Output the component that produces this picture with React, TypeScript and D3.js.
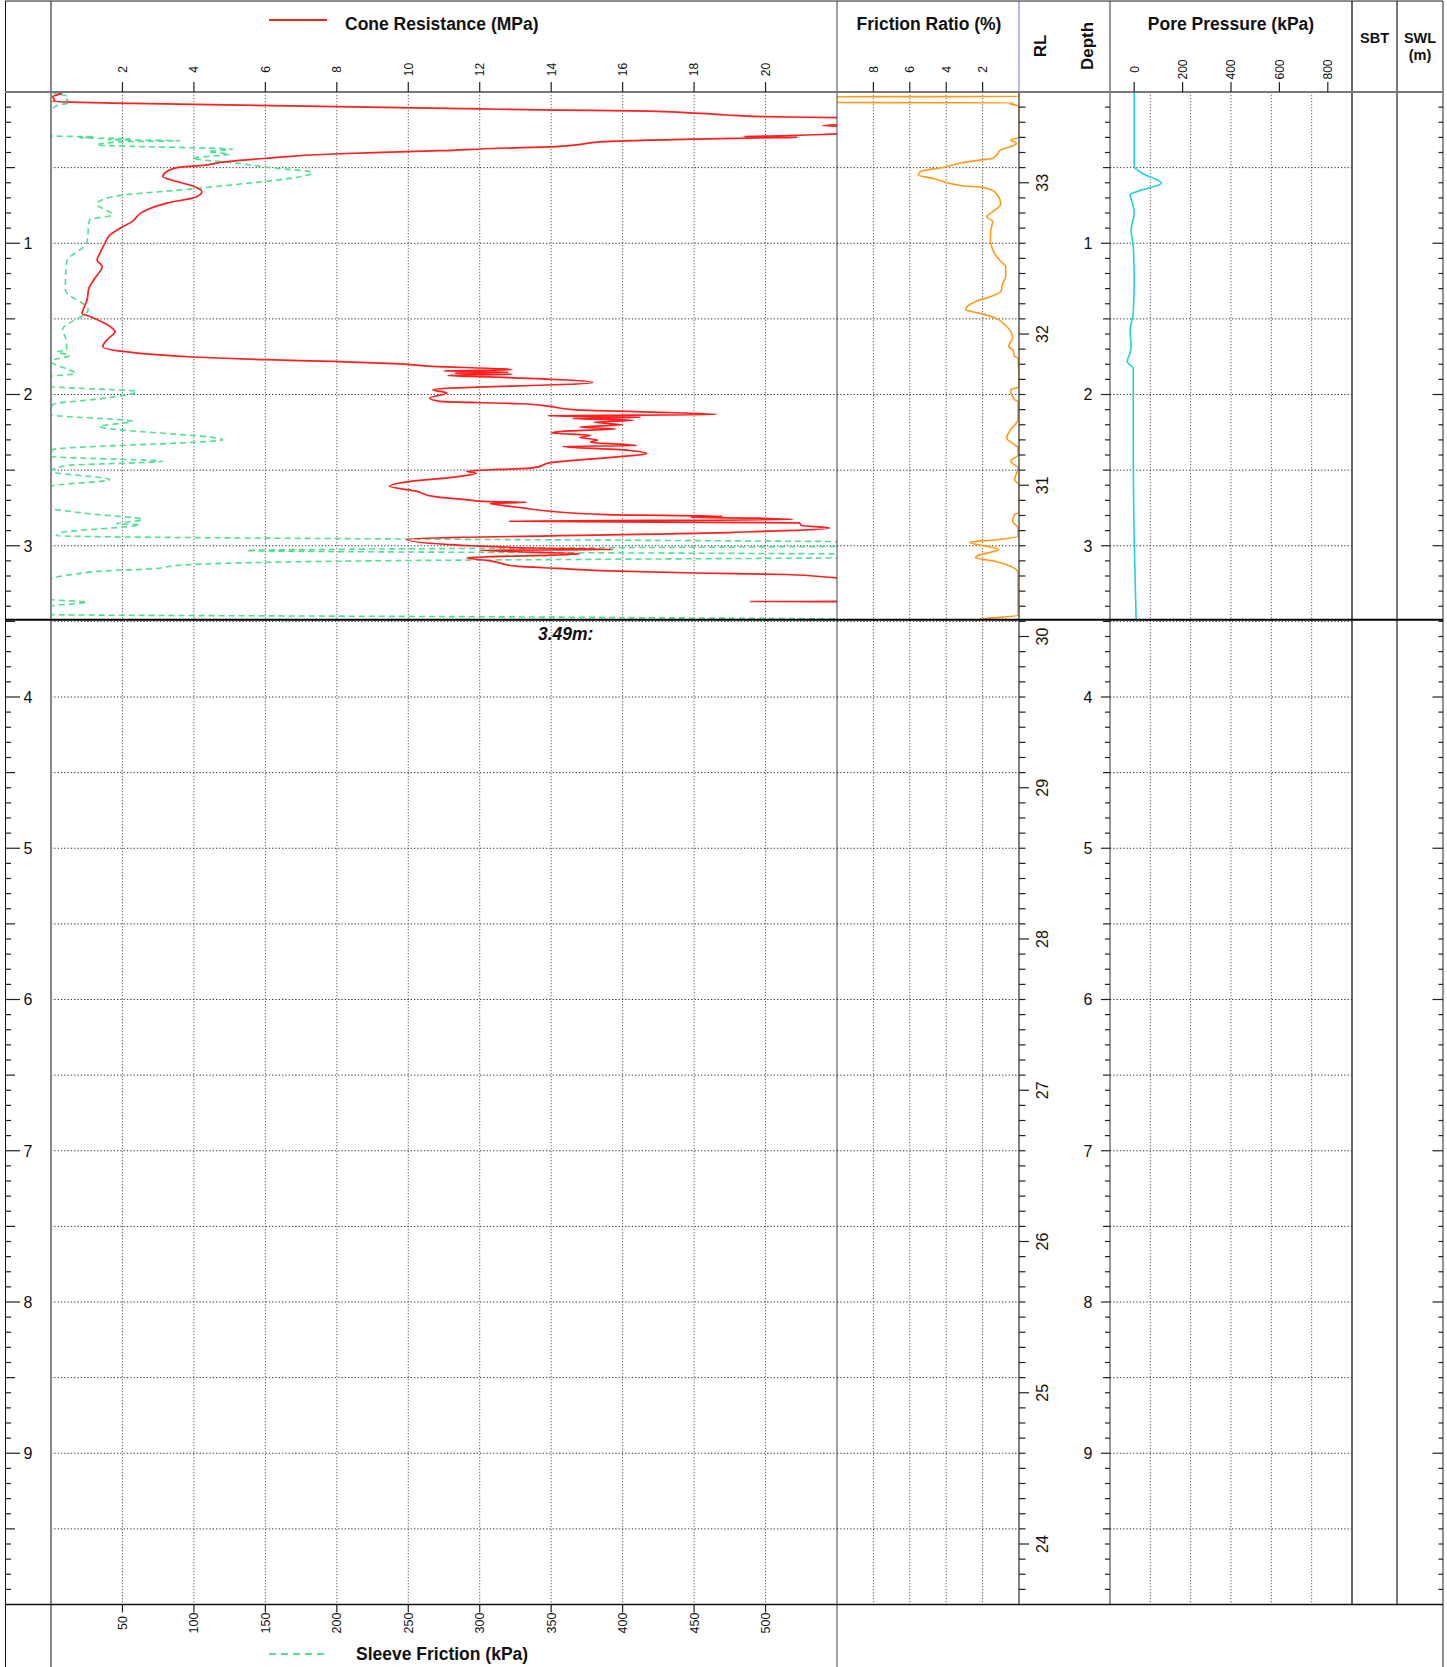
import React from "react";
import * as d3 from "d3";

// ---------- data (depth in m) ----------
const coneDepth = [0.0, 0.008, 0.03, 0.055, 0.063, 0.075, 0.103, 0.112, 0.12, 0.125, 0.141, 0.152, 0.163, 0.17, 0.195, 0.222, 0.25, 0.277, 0.29, 0.295, 0.3, 0.303, 0.312, 0.33, 0.35, 0.363, 0.372, 0.388, 0.396, 0.41, 0.438, 0.46, 0.489, 0.497, 0.526, 0.559, 0.592, 0.621, 0.659, 0.692, 0.735, 0.791, 0.857, 0.89, 0.945, 0.999, 1.065, 1.11, 1.154, 1.231, 1.297, 1.374, 1.44, 1.462, 1.484, 1.55, 1.583, 1.638, 1.682, 1.715, 1.752, 1.77, 1.781, 1.797, 1.814, 1.83, 1.836, 1.845, 1.852, 1.86, 1.866, 1.874, 1.884, 1.92, 1.968, 1.99, 2.023, 2.046, 2.061, 2.079, 2.1, 2.133, 2.14, 2.15, 2.158, 2.17, 2.184, 2.2, 2.215, 2.228, 2.24, 2.255, 2.27, 2.285, 2.3, 2.315, 2.338, 2.343, 2.365, 2.391, 2.409, 2.442, 2.449, 2.485, 2.508, 2.52, 2.541, 2.585, 2.607, 2.64, 2.673, 2.684, 2.695, 2.706, 2.713, 2.72, 2.728, 2.75, 2.772, 2.794, 2.805, 2.812, 2.818, 2.827, 2.838, 2.849, 2.865, 2.882, 2.911, 2.959, 3.003, 3.015, 3.025, 3.03, 3.054, 3.08, 3.1, 3.135, 3.15, 3.164, 3.18, 3.19, 3.212, 3.25, 3.366, 3.3685, 3.371, 3.49];
const coneValue = [0.0, 0.3, 0.05, 0.1, 0.05, 2.29, 9.76, 12.0, 14.24, 16.28, 18.15, 18.9, 20.0, 22.0, 25.0, 21.6, 25.0, 22.0, 20.4, 19.4, 20.9, 19.8, 17.96, 15.36, 14.7, 13.96, 12.56, 10.88, 9.76, 7.89, 6.04, 4.92, 4.08, 3.61, 3.24, 3.13, 3.52, 3.97, 4.22, 4.08, 3.24, 2.57, 2.27, 2.01, 1.65, 1.51, 1.37, 1.29, 1.43, 1.23, 1.06, 1.01, 0.9, 0.87, 1.09, 1.65, 1.79, 1.57, 1.45, 2.01, 3.97, 6.04, 7.89, 9.76, 10.69, 12.56, 12.9, 11.0, 12.8, 11.3, 12.9, 11.1, 12.28, 15.16, 10.69, 11.08, 10.6, 10.88, 13.12, 13.96, 14.6, 18.63, 13.9, 16.5, 14.6, 16.3, 15.2, 16.0, 14.8, 15.8, 14.5, 14.0, 15.1, 14.8, 15.3, 15.1, 16.39, 14.32, 15.92, 16.67, 16.0, 14.32, 14.04, 13.48, 11.64, 11.9, 11.44, 9.76, 9.48, 10.24, 10.69, 11.08, 11.6, 12.08, 13.31, 12.3, 12.48, 13.2, 13.96, 15.55, 18.8, 17.9, 19.8, 20.76, 12.84, 20.95, 21.0, 21.79, 19.08, 9.96, 12.0, 13.5, 15.72, 12.0, 14.8, 11.64, 12.3, 13.03, 14.2, 15.36, 18.0, 20.59, 22.0, 26.0, 28.0, 19.55, 28.0, 28.0];

const sleeveDepth = [0.0, 0.01, 0.03, 0.053, 0.07, 0.086, 0.13, 0.29, 0.297, 0.303, 0.309, 0.316, 0.322, 0.33, 0.35, 0.36, 0.378, 0.395, 0.41, 0.438, 0.467, 0.497, 0.533, 0.636, 0.692, 0.74, 0.812, 0.845, 0.999, 1.121, 1.308, 1.44, 1.572, 1.62, 1.704, 1.72, 1.74, 1.781, 1.863, 1.88, 1.946, 1.98, 2.023, 2.067, 2.133, 2.178, 2.211, 2.299, 2.365, 2.409, 2.442, 2.47, 2.508, 2.563, 2.607, 2.75, 2.783, 2.827, 2.855, 2.86, 2.915, 2.933, 2.99, 3.032, 3.065, 3.102, 3.124, 3.157, 3.162, 3.19, 3.223, 3.355, 3.373, 3.4, 3.455, 3.47, 3.49];
const sleeveValue = [0, 3, 12, 11, 14, 5, 0, 0, 30, 20, 55, 40, 90, 48, 32, 60, 127, 110, 125, 99, 127, 151, 183, 104, 43, 32, 43, 27, 25, 11, 10, 26, 8, 10, 11, 4, 13, 0, 17, 0, 0, 60, 39, 1, 0, 57, 34, 120, 1, 0, 78, 10, 0, 41, 0, 0, 22, 64, 46, 62, 6, 4, 720, 137, 720, 202, 99, 62, 46, 15, 0, 0, 25, 0, 0, 314, 650];

const frDepth = [0.0, 0.03, 0.031, 0.069, 0.071, 0.08, 0.086, 0.1, 0.3, 0.317, 0.339, 0.357, 0.383, 0.416, 0.438, 0.449, 0.471, 0.497, 0.526, 0.548, 0.57, 0.621, 0.629, 0.647, 0.68, 0.74, 0.791, 0.824, 0.857, 0.911, 0.978, 1.044, 1.121, 1.154, 1.22, 1.264, 1.319, 1.352, 1.385, 1.44, 1.462, 1.495, 1.539, 1.583, 1.627, 1.682, 1.704, 1.748, 1.759, 1.95, 1.968, 2.034, 2.046, 2.166, 2.233, 2.287, 2.332, 2.353, 2.398, 2.442, 2.485, 2.563, 2.6, 2.78, 2.794, 2.838, 2.882, 2.937, 2.959, 2.977, 3.025, 3.065, 3.08, 3.102, 3.135, 3.179, 3.461, 3.483, 3.49];
const frValue = [0, 0, 14, 14, 0.3, 0.5, 0.2, 0, 0, 0.46, 0.13, 0.35, 1.0, 1.22, 1.44, 2.07, 3.25, 4.11, 5.42, 5.53, 4.76, 3.04, 2.07, 1.53, 1.2, 1.0, 1.44, 1.77, 1.44, 1.55, 1.57, 1.44, 1.0, 0.73, 0.73, 0.89, 1.0, 1.55, 2.39, 2.93, 2.17, 1.28, 0.78, 0.46, 0.35, 0.57, 0.35, 0.24, 0.05, 0, 0.46, 0.24, 0.05, 0.05, 0.46, 0.68, 0.24, 0.05, 0.05, 0.46, 0.05, 0.24, 0, 0, 0.24, 0.35, 0.05, 0.05, 1.11, 2.71, 1.11, 2.28, 2.39, 1.33, 0.46, 0.05, 0.05, 1.98, 2.2];

const ppDepth = [0.0, 0.493, 0.537, 0.603, 0.647, 0.68, 0.72, 0.801, 0.911, 1.022, 1.242, 1.462, 1.572, 1.682, 1.726, 1.781, 1.8, 1.825, 2.299, 2.959, 3.487];
const ppValue = [0, 0, 33, 113, 33, -17, -10, 0, -13, -4, 0, -4, -17, -13, -17, -29, -20, -4, -4, 0, 8];

const coneTicks = [2, 4, 6, 8, 10, 12, 14, 16, 18, 20];
const sleeveTicks = [50, 100, 150, 200, 250, 300, 350, 400, 450, 500];
const frTicks = [8, 6, 4, 2];
const ppTicks = [0, 200, 400, 600, 800];
const depthLabels = [1, 2, 3, 4, 5, 6, 7, 8, 9];
const rlLabels = [33, 32, 31, 30, 29, 28, 27, 26, 25, 24];
const endDepth = 3.49;

const FONT = "'Liberation Sans', Arial, Helvetica, sans-serif";
const RED = "#ff1f1f";
const GREEN = "#4fdf95";
const ORANGE = "#ff9a1a";
const CYAN = "#1fd3de";

export default function App() {
  const top = 92;
  const bottom = 1604.5;
  const y = d3.scaleLinear().domain([0, 10]).range([top, bottom]);
  const yRl = d3.scaleLinear().domain([33.6, 23.6]).range([top, bottom]);
  const xCone = d3.scaleLinear().domain([0, 22]).range([51, 837]);
  const xFs = d3.scaleLinear().domain([0, 550]).range([51, 837]);
  const xFr = d3.scaleLinear().domain([10, 0]).range([837, 1019]);
  const xPp = d3.scaleLinear().domain([-100, 900]).range([1110, 1352]);

  const coneLine = d3.line<number>().x((v) => xCone(v)).y((_, i) => y(coneDepth[i])).curve(d3.curveMonotoneY);
  const fsLine = d3.line<number>().x((v) => xFs(v)).y((_, i) => y(sleeveDepth[i])).curve(d3.curveMonotoneY);
  const frLine = d3.line<number>().x((v) => xFr(v)).y((_, i) => y(frDepth[i])).curve(d3.curveMonotoneY);
  const ppLine = d3.line<number>().x((v) => xPp(v)).y((_, i) => y(ppDepth[i])).curve(d3.curveMonotoneY);

  const halfDepths = d3.range(1, 20).map((i) => i / 2);
  const tenthDepths = d3.range(1, 100).map((i) => i / 10);
  const ppGrid = d3.range(1, 6).map((k) => -100 + (k * 1000) / 6);
  const rlTicks = d3.range(1, 100).map((i) => Math.round((33.6 - i / 10) * 10) / 10);

  const hGrid = (x0: number, x1: number, key: string) =>
    halfDepths.map((d) => (
      <line key={key + d} x1={x0} x2={x1} y1={y(d)} y2={y(d)} stroke="#333" strokeWidth={1} strokeDasharray="1.3 2" />
    ));
  const vGrid = (xs: number[], key: string) =>
    xs.map((x, i) => (
      <line key={key + i} x1={x} x2={x} y1={top} y2={bottom} stroke="#666" strokeWidth={1} strokeDasharray="1.3 1.7" />
    ));

  const topTickLabel = (x: number, label: string, key: string) => (
    <g key={key}>
      <line x1={x} x2={x} y1={top - 10} y2={top} stroke="#222" strokeWidth={1.2} />
      <text transform={`translate(${x},69.5) rotate(-90)`} textAnchor="middle" dy="0.36em" fontSize={12} fontFamily={FONT} fill="#111">
        {label}
      </text>
    </g>
  );

  return (
    <svg width={1447} height={1667} style={{ position: "absolute", left: 0, top: 0, background: "#fff" }} fontFamily={FONT}>
      <defs>
        <clipPath id="clipCone"><rect x={51} y={top} width={786} height={bottom - top} /></clipPath>
        <clipPath id="clipFr"><rect x={837} y={top} width={182} height={bottom - top} /></clipPath>
        <clipPath id="clipPp"><rect x={1110} y={top} width={242} height={bottom - top} /></clipPath>
      </defs>
      <rect x={0} y={0} width={1447} height={1667} fill="#fff" />

      {/* gridlines */}
      {vGrid(coneTicks.map((t) => xCone(t)), "gc")}
      {vGrid(frTicks.map((t) => xFr(t)), "gf")}
      {vGrid(ppGrid.map((t) => xPp(t)), "gp")}
      {hGrid(51, 837, "hc")}
      {hGrid(837, 1019, "hf")}
      {hGrid(1110, 1352, "hp")}

      {/* data */}
      <g clipPath="url(#clipCone)">
        <path d={fsLine(sleeveValue) || ""} fill="none" stroke={GREEN} strokeWidth={1.6} strokeDasharray="6 4" />
        <path d={coneLine(coneValue) || ""} fill="none" stroke={RED} strokeWidth={1.7} />
      </g>
      <g clipPath="url(#clipFr)">
        <path d={frLine(frValue) || ""} fill="none" stroke={ORANGE} strokeWidth={1.6} />
      </g>
      <g clipPath="url(#clipPp)">
        <path d={ppLine(ppValue) || ""} fill="none" stroke={CYAN} strokeWidth={1.6} />
      </g>

      {/* frame lines */}
      <line x1={5.5} x2={5.5} y1={1} y2={1667} stroke="#111" strokeWidth={1} />
      <line x1={51} x2={51} y1={1} y2={1667} stroke="#888" strokeWidth={2} />
      <line x1={837} x2={837} y1={1} y2={1667} stroke="#444" strokeWidth={1} />
      <line x1={1019} x2={1019} y1={1} y2={top} stroke="#b394e6" strokeWidth={1.5} />
      <line x1={1019} x2={1019} y1={top} y2={bottom} stroke="#555" strokeWidth={1.5} />
      <line x1={1110} x2={1110} y1={1} y2={bottom} stroke="#333" strokeWidth={1} />
      <line x1={1352} x2={1352} y1={1} y2={bottom} stroke="#333" strokeWidth={1.5} />
      <line x1={1397} x2={1397} y1={1} y2={bottom} stroke="#777" strokeWidth={2} />
      <line x1={1443} x2={1443} y1={1} y2={1667} stroke="#222" strokeWidth={1} />
      <line x1={5} x2={1443} y1={1} y2={1} stroke="#222" strokeWidth={1} />
      <line x1={5} x2={1443} y1={top} y2={top} stroke="#777" strokeWidth={2} />
      <line x1={5} x2={1443} y1={bottom} y2={bottom} stroke="#111" strokeWidth={1.5} />
      <line x1={5} x2={1443} y1={y(endDepth)} y2={y(endDepth)} stroke="#000" strokeWidth={2} />

      {/* left depth axis */}
      {tenthDepths.map((d) => {
        const major = Math.abs(d - Math.round(d)) < 1e-6;
        const half = !major && Math.abs(d * 2 - Math.round(d * 2)) < 1e-6;
        return <line key={"ld" + d} x1={5.5} x2={major ? 20 : half ? 15 : 11} y1={y(d)} y2={y(d)} stroke="#222" strokeWidth={1.2} />;
      })}
      {depthLabels.map((d) => (
        <text key={"ll" + d} x={28} y={y(d)} dy="0.36em" textAnchor="middle" fontSize={16} fill="#111">{d}</text>
      ))}

      {/* RL axis */}
      {rlTicks.map((r, i) => {
        const major = Math.abs(r - Math.round(r)) < 1e-6;
        return <line key={"rt" + i} x1={1019} x2={major ? 1029 : 1025.5} y1={yRl(r)} y2={yRl(r)} stroke="#222" strokeWidth={1.2} />;
      })}
      {rlLabels.map((r) => (
        <text key={"rl" + r} transform={`translate(1042,${yRl(r)}) rotate(-90)`} textAnchor="middle" dy="0.36em" fontSize={16} fill="#111">{r}</text>
      ))}

      {/* depth axis at pore pressure */}
      {tenthDepths.map((d) => {
        const major = Math.abs(d - Math.round(d)) < 1e-6;
        const half = !major && Math.abs(d * 2 - Math.round(d * 2)) < 1e-6;
        return <line key={"dd" + d} x1={1110} x2={major ? 1101 : half ? 1103 : 1105} y1={y(d)} y2={y(d)} stroke="#222" strokeWidth={1.2} />;
      })}
      {depthLabels.map((d) => (
        <text key={"dl" + d} x={1088} y={y(d)} dy="0.36em" textAnchor="middle" fontSize={16} fill="#111">{d}</text>
      ))}

      {/* right edge ticks */}
      {tenthDepths.map((d) => {
        const major = Math.abs(d - Math.round(d)) < 1e-6;
        return <line key={"re" + d} x1={1443} x2={major ? 1432.5 : 1438.5} y1={y(d)} y2={y(d)} stroke="#222" strokeWidth={1.2} />;
      })}

      {/* top axes */}
      {coneTicks.map((t) => topTickLabel(xCone(t), String(t), "ct" + t))}
      {frTicks.map((t) => topTickLabel(xFr(t), String(t), "ft" + t))}
      {ppTicks.map((t) => topTickLabel(xPp(t), String(t), "pt" + t))}

      {/* bottom sleeve axis */}
      {sleeveTicks.map((t) => (
        <g key={"st" + t}>
          <line x1={xFs(t)} x2={xFs(t)} y1={bottom} y2={bottom + 8} stroke="#222" strokeWidth={1.2} />
          <text transform={`translate(${xFs(t)},1623) rotate(-90)`} textAnchor="middle" dy="0.36em" fontSize={12.5} fill="#111">{t}</text>
        </g>
      ))}

      {/* header titles */}
      <line x1={269} x2={327} y1={20} y2={20} stroke={RED} strokeWidth={2} />
      <text x={345} y={30} fontSize={17.5} fontWeight="bold" fill="#111">Cone Resistance (MPa)</text>
      <text x={929} y={30} fontSize={17.5} fontWeight="bold" textAnchor="middle" fill="#111">Friction Ratio (%)</text>
      <text transform="translate(1040,46) rotate(-90)" textAnchor="middle" dy="0.36em" fontSize={17} fontWeight="bold" fill="#111">RL</text>
      <text transform="translate(1087,46) rotate(-90)" textAnchor="middle" dy="0.36em" fontSize={17} fontWeight="bold" fill="#111">Depth</text>
      <text x={1231} y={30} fontSize={17.5} fontWeight="bold" textAnchor="middle" fill="#111">Pore Pressure (kPa)</text>
      <text x={1374.5} y={43} fontSize={14.5} fontWeight="bold" textAnchor="middle" fill="#111">SBT</text>
      <text x={1420} y={43} fontSize={14.5} fontWeight="bold" textAnchor="middle" fill="#111">SWL</text>
      <text x={1420} y={60} fontSize={14.5} fontWeight="bold" textAnchor="middle" fill="#111">(m)</text>

      {/* end depth label */}
      <text x={538} y={640} fontSize={17.5} fontWeight="bold" fontStyle="italic" fill="#111">{endDepth.toFixed(2)}m:</text>

      {/* footer legend */}
      <line x1={269} x2={327} y1={1654} y2={1654} stroke={GREEN} strokeWidth={2} strokeDasharray="7 5" />
      <text x={356} y={1660} fontSize={17.5} fontWeight="bold" fill="#111">Sleeve Friction (kPa)</text>
    </svg>
  );
}
